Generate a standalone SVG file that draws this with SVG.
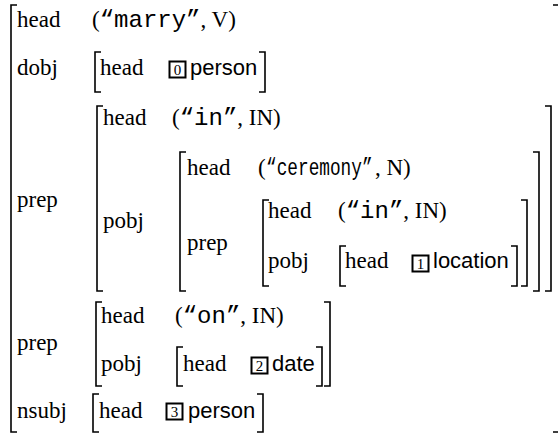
<svg xmlns="http://www.w3.org/2000/svg" width="558" height="436" viewBox="0 0 558 436">
<style>
.s{font-family:"Liberation Serif","Times New Roman",serif;font-size:23px;fill:#000}
.m{font-family:"Liberation Mono","Courier New",monospace;font-size:24px}
.h{font-family:"Liberation Sans",Arial,sans-serif;font-size:22px;fill:#000}
.n{font-family:"Liberation Serif",serif;font-size:15px;fill:#000;text-anchor:middle}
.b{fill:none;stroke:#000;stroke-width:1.6}
.bx{fill:none;stroke:#000;stroke-width:2}
</style>
<rect width="558" height="436" fill="#fff"/>
<g id="outer">
<path class="b" d="M17,5H11V432H17"/>
<path class="b" d="M553,5H560V432H553"/>
<text class="s" x="17" y="27">head</text>
<text class="s" x="92" y="27">(<tspan class="m">“marry”</tspan>, V)</text>
<text class="s" x="17" y="75">dobj</text>
<text class="s" x="17" y="207">prep</text>
<text class="s" x="17" y="350">prep</text>
<text class="s" x="17" y="418">nsubj</text>
</g>
<g id="dobj">
<path class="b" d="M101,52H95V92H101"/>
<path class="b" d="M259,52H265V92H259"/>
<text class="s" x="100" y="75">head</text>
<rect class="bx" x="169.5" y="61.5" width="16" height="16"/>
<text class="n" x="177.5" y="75">0</text>
<text class="h" x="190" y="75">person</text>
</g>
<g id="prep1">
<path class="b" d="M103,106H97V291H103"/>
<path class="b" d="M545,106H551V291H545"/>
<text class="s" x="103" y="125">head</text>
<text class="s" x="172" y="125">(<tspan class="m">“in”</tspan>, IN)</text>
<text class="s" x="103" y="228">pobj</text>
</g>
<g id="ceremony">
<path class="b" d="M186,152H180V291H186"/>
<path class="b" d="M533,152H539V291H533"/>
<text class="s" x="187" y="175">head</text>
<text class="s" x="258" y="175">(</text>
<text class="m" transform="translate(266,175) scale(0.74,1)">“ceremony”</text>
<text class="s" x="375" y="175">, N)</text>
<text class="s" x="187" y="250">prep</text>
</g>
<g id="prep2">
<path class="b" d="M269,200H263V286H269"/>
<path class="b" d="M521,200H527V286H521"/>
<text class="s" x="268" y="218">head</text>
<text class="s" x="338" y="218">(<tspan class="m">“in”</tspan>, IN)</text>
<text class="s" x="268" y="268">pobj</text>
</g>
<g id="location">
<path class="b" d="M346,246H340V286H346"/>
<path class="b" d="M511,246H517V286H511"/>
<text class="s" x="345" y="268">head</text>
<rect class="bx" x="412.5" y="255.5" width="16" height="16"/>
<text class="n" x="420.5" y="269">1</text>
<text class="h" x="433" y="268">location</text>
</g>
<g id="prep3">
<path class="b" d="M102,302H96V386H102"/>
<path class="b" d="M324,302H330V386H324"/>
<text class="s" x="101" y="323">head</text>
<text class="s" x="175" y="323">(<tspan class="m">“on”</tspan>, IN)</text>
<text class="s" x="101" y="371">pobj</text>
</g>
<g id="date">
<path class="b" d="M183,347H177V386H183"/>
<path class="b" d="M316,347H322V386H316"/>
<text class="s" x="183" y="371">head</text>
<rect class="bx" x="251.5" y="357.5" width="16" height="16"/>
<text class="n" x="259.5" y="371">2</text>
<text class="h" x="272" y="371">date</text>
</g>
<g id="nsubj">
<path class="b" d="M99,394H93V432H99"/>
<path class="b" d="M257,394H263V432H257"/>
<text class="s" x="99" y="418">head</text>
<rect class="bx" x="166.5" y="403.5" width="16" height="16"/>
<text class="n" x="174.5" y="417">3</text>
<text class="h" x="188" y="418">person</text>
</g>
</svg>
